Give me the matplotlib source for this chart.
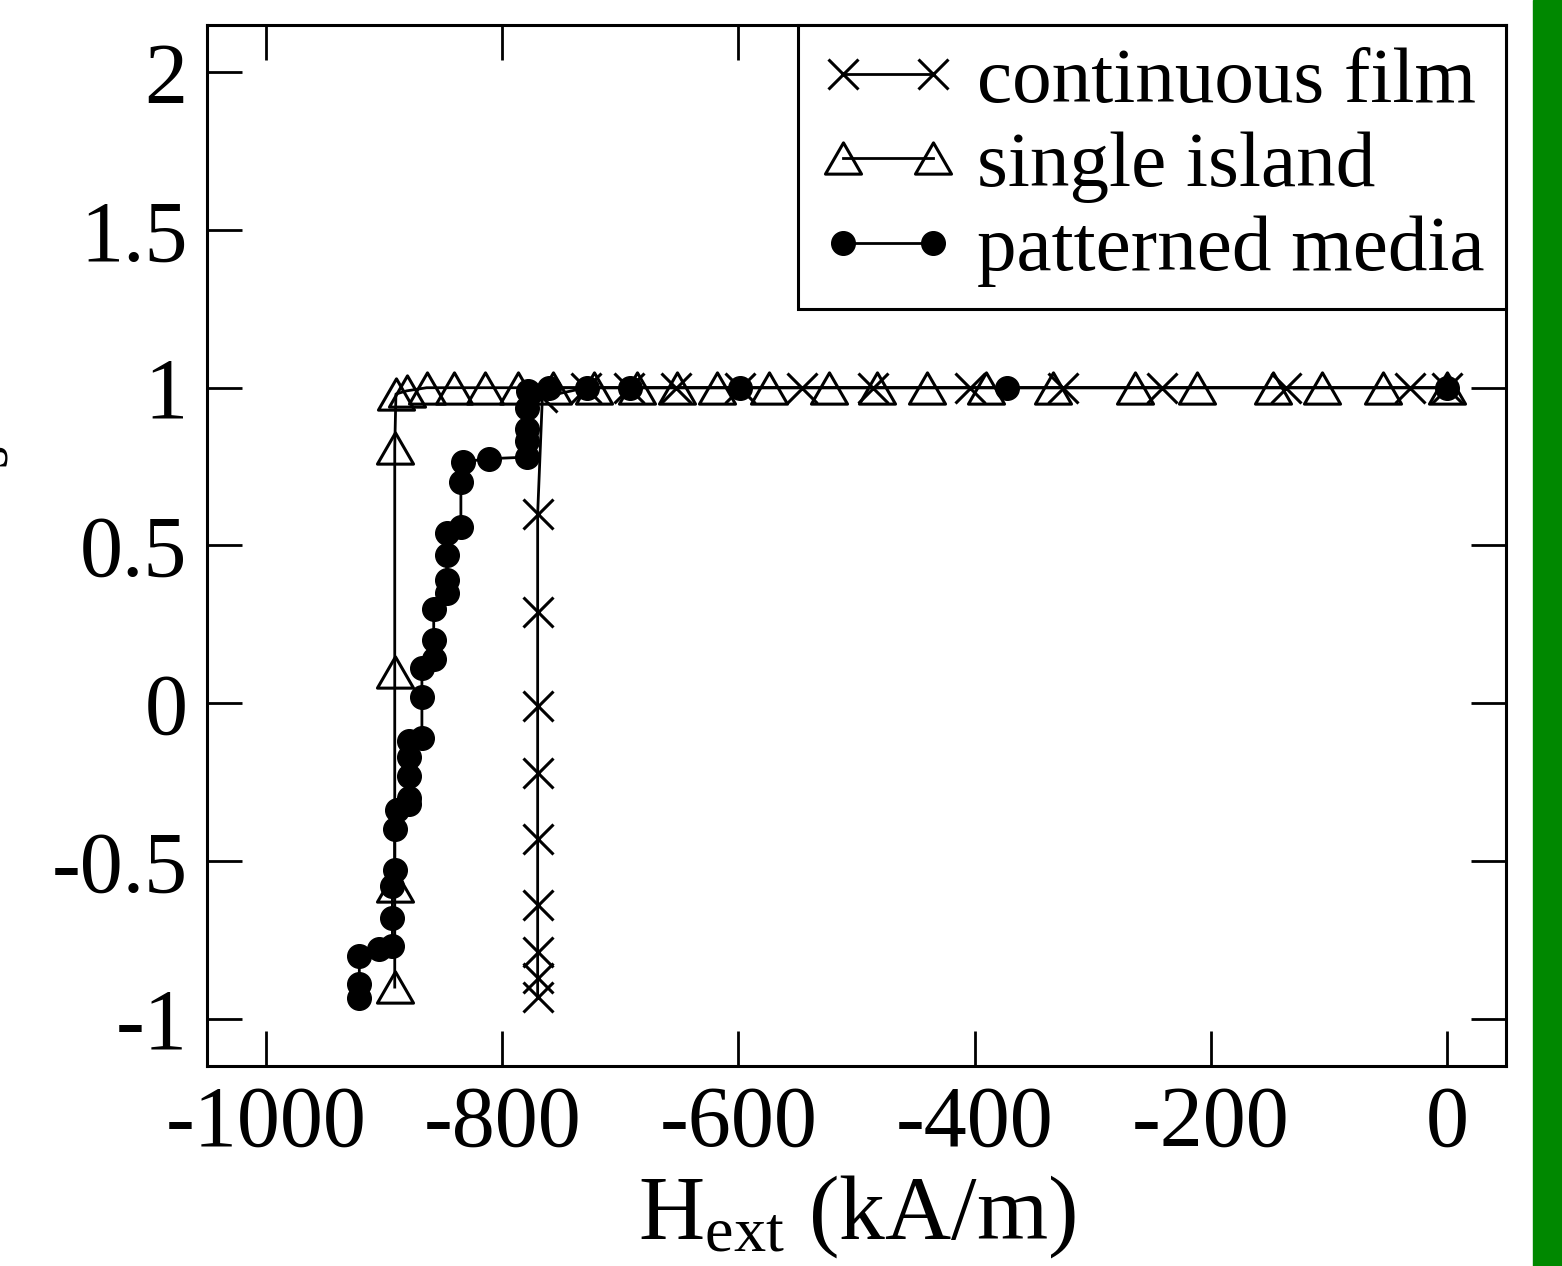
import matplotlib
matplotlib.use("Agg")
from matplotlib import pyplot as plt
from matplotlib.path import Path

plt.rcParams['font.family'] = ['Liberation Serif', 'DejaVu Serif']
plt.rcParams['mathtext.fontset'] = 'custom'
plt.rcParams['mathtext.rm'] = 'Liberation Serif'
plt.rcParams['mathtext.it'] = 'Liberation Serif:italic'
plt.rcParams['axes.unicode_minus'] = False

# continuous film (x markers)
film_h = [0, -31, -136, -241, -325, -404, -486, -546, -599, -653, -693, -729, -766,
          -770, -770, -770, -770, -770, -770, -770, -770, -770]
film_m = [1.0, 1.0, 1.0, 1.0, 1.0, 1.0, 1.0, 1.0, 1.0, 1.0, 1.0, 1.0, 0.97,
          0.60, 0.29, -0.01, -0.22, -0.43, -0.64, -0.79, -0.87, -0.93]

# single island (open triangles)
island_h = [0, -54, -106, -147, -212, -264, -334, -390, -440, -483, -523, -574, -618,
            -652, -686, -722, -757, -787, -815, -841, -864, -881, -890,
            -891, -891, -891, -891]
island_m = [1.0, 1.0, 1.0, 1.0, 1.0, 1.0, 1.0, 1.0, 1.0, 1.0, 1.0, 1.0, 1.0,
            1.0, 1.0, 1.0, 1.0, 1.0, 1.0, 1.0, 1.0, 0.99, 0.98,
            0.81, 0.10, -0.58, -0.90]

# patterned media (filled circles)
media_h = [0, -373, -599, -692, -728, -760, -778, -779, -779, -779, -779, -811, -833,
           -835, -835, -847, -847, -847, -847, -858, -858, -858, -868, -868, -868,
           -879, -879, -879, -879, -879, -889, -891, -891, -893, -893, -893, -904,
           -921, -921, -921]
media_m = [1.0, 1.0, 1.0, 1.0, 1.0, 1.0, 0.99, 0.935, 0.87, 0.83, 0.78, 0.775, 0.765,
           0.70, 0.56, 0.54, 0.47, 0.39, 0.35, 0.30, 0.20, 0.14, 0.11, 0.02, -0.11,
           -0.12, -0.17, -0.23, -0.30, -0.32, -0.34, -0.40, -0.53, -0.58, -0.68, -0.77, -0.78,
           -0.80, -0.89, -0.935]

# open triangle marker, closed path
tri = Path([(0, 0.866), (-1, -0.866), (1, -0.866), (0, 0.866)],
           [Path.MOVETO, Path.LINETO, Path.LINETO, Path.CLOSEPOLY])

fig = plt.figure(figsize=(15.62, 12.66), dpi=100)
ax = fig.add_axes([0.1325, 0.158, 0.8317, 0.8223])

ax.plot(film_h, film_m, color='black', lw=2, marker='x', ms=22, mew=2.2,
        label='continuous film')
ax.plot(island_h, island_m, color='black', lw=2, marker=tri, ms=26, mew=2.2,
        mfc='none', label='single island')
ax.plot(media_h, media_m, color='black', lw=2, marker='o', ms=17,
        label='patterned media')

ax.set_xlim(-1050, 50)
ax.set_ylim(-1.15, 2.15)
ax.set_xticks([-1000, -800, -600, -400, -200, 0])
ax.set_yticks([-1, -0.5, 0, 0.5, 1, 1.5, 2])
ax.set_yticklabels(['-1', '-0.5', '0', '0.5', '1', '1.5', '2'])
ax.tick_params(direction='in', length=25, width=2, labelsize=62, pad=14,
               top=True, right=True)
for s in ax.spines.values():
    s.set_linewidth(2.2)

ax.set_xlabel(r'H$_{\rm ext}$ (kA/m)', fontsize=66, labelpad=6)
ax.set_ylabel(r'M/M$_{\rm s}$', fontsize=62)
ax.yaxis.set_label_coords(-0.147, 0.5)

leg = ax.legend(loc='upper right', borderaxespad=0, fontsize=57, numpoints=2,
                handlelength=1.73, handletextpad=0.26, borderpad=0.27,
                labelspacing=0.15, fancybox=False, framealpha=1)
leg.get_frame().set_edgecolor('black')
leg.get_frame().set_linewidth(2.2)

# green strip on the right edge
fig.patches.append(plt.Rectangle((0.9814, 0), 0.0186, 1, transform=fig.transFigure,
                                 color='#008800', zorder=0))

fig.savefig('out.png', dpi=100)
